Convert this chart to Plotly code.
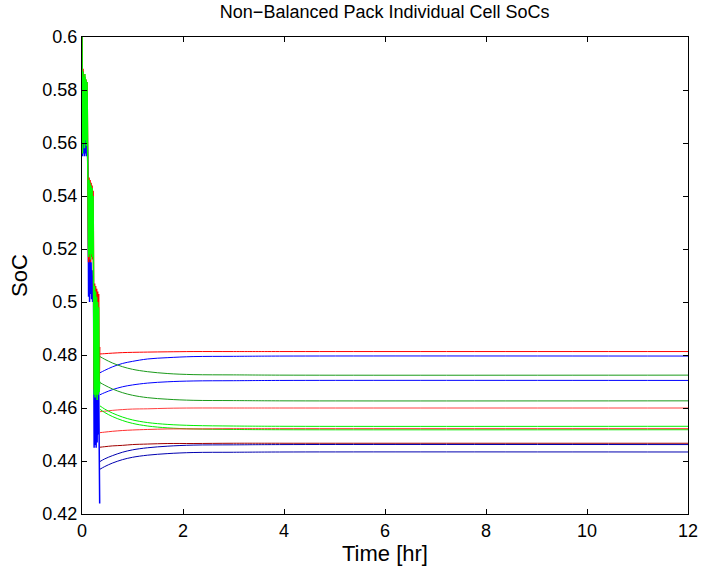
import plotly.graph_objects as go

# early (pulsed) part, shared time base, hr
t_early = [0.00, 0.01, 0.02, 0.03, 0.04, 0.05, 0.06, 0.07, 0.08, 0.09, 0.10, 0.11,
           0.12, 0.13, 0.14, 0.15, 0.16, 0.17, 0.18, 0.19, 0.20, 0.21, 0.22,
           0.23, 0.24, 0.25, 0.26, 0.27, 0.28, 0.29, 0.30, 0.31, 0.32, 0.33, 0.34, 0.35]

blue_early = [0.600, 0.555, 0.587, 0.556, 0.582, 0.555, 0.565, 0.556, 0.564, 0.555, 0.563, 0.556,
              0.548, 0.502, 0.540, 0.500, 0.536, 0.503, 0.515, 0.501, 0.512, 0.500, 0.510,
              0.500, 0.445, 0.498, 0.446, 0.490, 0.445, 0.480, 0.447, 0.475, 0.450, 0.470, 0.446, 0.424]
red_early = [0.600, 0.562, 0.588, 0.563, 0.586, 0.562, 0.585, 0.564, 0.584, 0.563, 0.583, 0.565,
             0.548, 0.515, 0.547, 0.516, 0.546, 0.515, 0.545, 0.517, 0.544, 0.516, 0.542,
             0.508, 0.467, 0.507, 0.468, 0.506, 0.466, 0.505, 0.469, 0.504, 0.467, 0.503, 0.468, 0.483]
green_early = [0.600, 0.556, 0.587, 0.560, 0.585, 0.558, 0.586, 0.561, 0.584, 0.559, 0.583, 0.560,
               0.548, 0.517, 0.546, 0.518, 0.545, 0.516, 0.544, 0.518, 0.543, 0.517, 0.540,
               0.507, 0.465, 0.506, 0.464, 0.504, 0.465, 0.502, 0.463, 0.500, 0.465, 0.498, 0.466, 0.470]

# rest period, hr
t_rest = [0.356, 0.45, 0.6, 0.8, 1.0, 1.3, 1.7, 2.2, 3.0, 4.0, 12.0]

cells = {
    "c1":  [0.4804, 0.4805, 0.4807, 0.4809, 0.4810, 0.4811, 0.4812, 0.4813, 0.4813, 0.4813, 0.4813],
    "c2":  [0.4733, 0.4742, 0.4755, 0.4768, 0.4776, 0.4785, 0.4790, 0.4794, 0.4795, 0.4796, 0.4796],
    "c3":  [0.4794, 0.4784, 0.4770, 0.4756, 0.4746, 0.4737, 0.4730, 0.4726, 0.4725, 0.4724, 0.4724],
    "c4":  [0.4650, 0.4658, 0.4669, 0.4680, 0.4687, 0.4694, 0.4699, 0.4702, 0.4703, 0.4704, 0.4704],
    "c5":  [0.4696, 0.4686, 0.4672, 0.4658, 0.4648, 0.4639, 0.4633, 0.4629, 0.4628, 0.4627, 0.4627],
    "c6":  [0.4586, 0.4588, 0.4591, 0.4594, 0.4596, 0.4597, 0.4599, 0.4600, 0.4600, 0.4600, 0.4600],
    "c7":  [0.4608, 0.4596, 0.4581, 0.4566, 0.4555, 0.4545, 0.4538, 0.4534, 0.4532, 0.4531, 0.4531],
    "c8":  [0.4595, 0.4583, 0.4568, 0.4553, 0.4542, 0.4532, 0.4525, 0.4521, 0.4519, 0.4518, 0.4518],
    "c9":  [0.4507, 0.4509, 0.4512, 0.4515, 0.4517, 0.4519, 0.4521, 0.4521, 0.4522, 0.4522, 0.4522],
    "c10": [0.4452, 0.4454, 0.4457, 0.4459, 0.4462, 0.4464, 0.4466, 0.4466, 0.4467, 0.4467, 0.4467],
    "c11": [0.4398, 0.4408, 0.4420, 0.4433, 0.4442, 0.4450, 0.4456, 0.4460, 0.4461, 0.4462, 0.4462],
    "c12": [0.4369, 0.4379, 0.4392, 0.4405, 0.4414, 0.4422, 0.4428, 0.4432, 0.4433, 0.4434, 0.4434],
}
cell_colors = {
    "c1": "#ff0000", "c2": "#0000ff", "c3": "#1a9a1a", "c4": "#0000ff",
    "c5": "#1a9a1a", "c6": "#ff4040", "c7": "#00ee00", "c8": "#00ee00",
    "c9": "#ff3030", "c10": "#a00000", "c11": "#0000b0", "c12": "#0000b0",
}

y_ticks = [0.42, 0.44, 0.46, 0.48, 0.5, 0.52, 0.54, 0.56, 0.58, 0.6]
y_labels = ["0.42", "0.44", "0.46", "0.48", "0.5", "0.52", "0.54", "0.56", "0.58", "0.6"]

fig = go.Figure()

for vals, col in [(blue_early, "#0000ff"), (red_early, "#ff0000"), (green_early, "#00ff00")]:
    fig.add_trace(go.Scatter(x=t_early, y=vals, mode="lines",
                             line=dict(color=col, width=1.5), showlegend=False))

for name, vals in cells.items():
    fig.add_trace(go.Scatter(x=t_rest, y=vals, mode="lines",
                             line=dict(color=cell_colors[name], width=1, shape="spline"),
                             showlegend=False))

axis_style = dict(showline=True, linecolor="black", linewidth=1, mirror="ticks",
                  ticks="inside", ticklen=5, tickcolor="black", showgrid=False,
                  zeroline=False, automargin=False,
                  tickfont=dict(size=18, color="black"))

fig.update_layout(
    width=702, height=566,
    margin=dict(l=82, r=14, t=37, b=52),
    paper_bgcolor="white", plot_bgcolor="white",
    font=dict(family="Liberation Sans, Arial, sans-serif", size=18, color="black"),
    title=dict(text="Non\u2212Balanced Pack Individual Cell SoCs", x=0.548, xanchor="center",
               y=1 - 12 / 566, yanchor="middle", yref="container", font=dict(size=18)),
    xaxis=dict(range=[0, 12], tickvals=[0, 2, 4, 6, 8, 10, 12],
               title=dict(text="Time [hr]", standoff=0), **axis_style),
    yaxis=dict(range=[0.42, 0.6], tickvals=y_ticks, ticktext=y_labels,
               title=dict(text="SoC", standoff=8), **axis_style),
)

# drop the page's default body margin so the figure sits at the window corner
fig.write_html("out.html", config={"displayModeBar": False},
               post_script="document.body.style.margin='0';")
